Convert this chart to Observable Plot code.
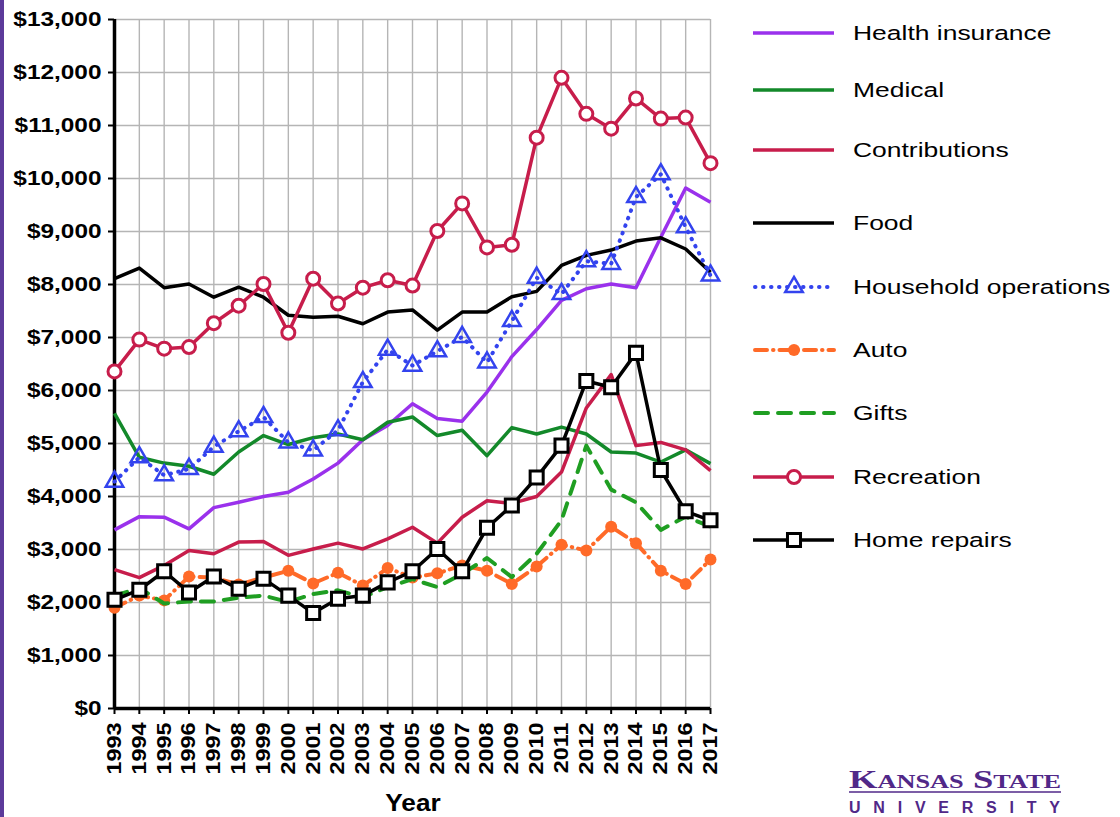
<!DOCTYPE html>
<html><head><meta charset="utf-8">
<script src="https://cdn.jsdelivr.net/npm/d3@7"></script>
<script src="https://cdn.jsdelivr.net/npm/@observablehq/plot@0.6"></script>
<style>
html,body{margin:0;padding:0;background:#fff;}
#wrap{position:relative;width:1120px;height:817px;overflow:hidden;background:#fff;font-family:"Liberation Sans",Arial,sans-serif;}
#chart{position:absolute;left:0;top:0;}
#overlay{position:absolute;left:0;top:0;}
#stripe{position:absolute;left:0;top:0;width:4px;height:817px;background:#5c3a9a;}
</style></head>
<body>
<div id="wrap"><div id="chart"></div><svg id="overlay" width="1120" height="817"></svg><div id="stripe"></div></div>
<script>
// ---- data ----
const years = [1993,1994,1995,1996,1997,1998,1999,2000,2001,2002,2003,2004,2005,2006,2007,2008,2009,2010,2011,2012,2013,2014,2015,2016,2017];
const yTicks = [0,1000,2000,3000,4000,5000,6000,7000,8000,9000,10000,11000,12000,13000];
const seriesNames = ["Health insurance","Medical","Contributions","Food","Household operations","Auto","Gifts","Recreation","Home repairs"];
const healthInsurance = [3370,3620,3610,3390,3790,3890,4000,4080,4330,4630,5070,5340,5750,5470,5420,5970,6640,7150,7700,7920,8010,7940,8890,9820,9550];
const medical = [5570,4740,4630,4570,4420,4840,5150,4980,5110,5180,5070,5400,5500,5150,5250,4770,5300,5180,5310,5180,4840,4820,4650,4880,4620];
const contributions = [2620,2470,2700,2980,2920,3140,3150,2890,3010,3120,3010,3200,3420,3120,3610,3920,3870,4000,4460,5670,6300,4960,5020,4880,4490];
const food = [8110,8310,7940,8010,7760,7950,7760,7420,7380,7400,7260,7480,7520,7140,7480,7480,7770,7870,8360,8550,8650,8820,8880,8670,8230];
const householdOperations = [4280,4740,4400,4520,4940,5230,5500,5020,4870,5250,6160,6770,6470,6740,7010,6530,7310,8130,7820,8440,8390,9650,10080,9080,8170];
const auto = [1900,2130,2040,2490,2470,2340,2470,2600,2360,2560,2320,2650,2470,2550,2700,2600,2350,2680,3090,2980,3430,3120,2600,2350,2810];
const gifts = [2130,2270,1980,2020,2020,2090,2130,2010,2160,2230,2100,2290,2440,2290,2540,2840,2480,2920,3550,4960,4130,3890,3370,3620,3430];
const recreation = [6360,6960,6790,6820,7270,7600,8010,7090,8110,7640,7940,8080,7980,9010,9530,8700,8750,10770,11900,11220,10940,11510,11130,11150,10290];
const homeRepairs = [2050,2240,2590,2190,2490,2260,2450,2130,1800,2070,2130,2380,2590,3010,2590,3410,3830,4360,4960,6180,6060,6710,4500,3720,3550];

// ---- styles ----
const CRIMSON = "#c71d4b";
const styles = {
  "Health insurance":     {values: healthInsurance, stroke:"#9a31ec", width:3.5},
  "Medical":              {values: medical, stroke:"#13892a", width:3.5},
  "Contributions":        {values: contributions, stroke:CRIMSON, width:3.5},
  "Food":                 {values: food, stroke:"#000", width:3.5},
  "Household operations": {values: householdOperations, stroke:"#3343ee", width:4, dash:"0.5 7.5", cap:"round", symbol:"triangle", r:5.2, fill:"none", mstroke:2.5},
  "Auto":                 {values: auto, stroke:"#ff6a28", width:4, dash:"12 6 0.5 6", cap:"round", symbol:"circle", r:6, fill:"#ff6a28", mstroke:0},
  "Gifts":                {values: gifts, stroke:"#1f9e22", width:4, dash:"13 10", cap:"round"},
  "Recreation":           {values: recreation, stroke:CRIMSON, width:3.5, symbol:"circle", r:6.5, fill:"#fff", mstroke:3},
  "Home repairs":         {values: homeRepairs, stroke:"#000", width:3.5, symbol:"square", r:4.6, fill:"#fff", mstroke:3}
};

const rows = seriesNames.flatMap(name => styles[name].values.map((v, i) => ({series: name, year: years[i], value: v})));

const drawOrder = ["Health insurance","Medical","Food","Household operations","Auto","Gifts","Contributions","Recreation","Home repairs"];
const seriesMarks = drawOrder.flatMap(name => {
  const s = styles[name];
  const d = rows.filter(r => r.series === name);
  const ms = [Plot.line(d, {x:"year", y:"value", stroke:s.stroke, strokeWidth:s.width, strokeDasharray:s.dash, strokeLinecap:s.cap || "butt", strokeLinejoin:"round"})];
  if (s.symbol) {
    if (s.symbol === "square") {
      ms.push(Plot.dot(d, {x:"year", y:"value", symbol:"square", r:s.r*1.6, fill:s.fill, stroke:s.stroke, strokeWidth:s.mstroke}));
    } else if (s.symbol === "triangle") {
      ms.push(Plot.dot(d, {x:"year", y:"value", symbol:"triangle", r:s.r*1.25, fill:s.fill, stroke:s.stroke, strokeWidth:s.mstroke}));
    } else {
      ms.push(Plot.dot(d, {x:"year", y:"value", r:s.r, fill:s.fill, stroke:s.mstroke ? s.stroke : "none", strokeWidth:s.mstroke}));
    }
  }
  return ms;
});

const chart = Plot.plot({
  width: 740, height: 817,
  marginLeft: 114, marginRight: 30, marginTop: 19, marginBottom: 109,
  style: {fontFamily:'"Liberation Sans", Arial, sans-serif', background:"transparent", color:"#000", overflow:"visible"},
  x: {domain:[1993, 2017]},
  y: {domain:[0, 13000]},
  marks: [
    Plot.gridX({ticks: years, stroke:"#b5b5b5", strokeOpacity:1, strokeWidth:1.4}),
    Plot.gridY({ticks: yTicks, stroke:"#b5b5b5", strokeOpacity:1, strokeWidth:1.4}),
    Plot.axisY({ticks: yTicks, tickFormat: d => "$" + d3.format(",")(d), tickSize:6, tickPadding:7, fontSize:20, fontWeight:"bold", strokeWidth:2, label:null}),
    Plot.axisX({ticks: years, tickFormat: d => String(d), tickRotate:-90, tickSize:6, tickPadding:8, fontSize:20, fontWeight:"bold", strokeWidth:2, label:null}),
    Plot.ruleX([1993], {stroke:"#000", strokeWidth:3.5}),
    Plot.ruleY([0], {stroke:"#000", strokeWidth:3.5}),
    ...seriesMarks
  ]
});
document.getElementById("chart").appendChild(chart);

function stretch(nodes, f) {
  nodes.forEach(t => {
    const w = t.getComputedTextLength();
    if (w > 0) { t.setAttribute("textLength", (w * f).toFixed(1)); t.setAttribute("lengthAdjust", "spacingAndGlyphs"); }
  });
}
stretch(chart.querySelectorAll('g[aria-label="y-axis tick label"] text'), 1.22);
stretch(chart.querySelectorAll('g[aria-label="x-axis tick label"] text'), 1.17);

// ---- overlay: legend, axis title, logo ----
const ov = d3.select("#overlay");
const legendRowY = [33, 90, 150, 223, 287, 350, 413, 477, 540];
const lx0 = 753, lx1 = 834, lxm = 794, ltx = 853;
seriesNames.forEach((name, i) => {
  const s = styles[name];
  const y = legendRowY[i];
  ov.append("line").attr("x1", lx0 + (s.cap ? 2 : 0)).attr("x2", lx1).attr("y1", y).attr("y2", y)
    .attr("stroke", s.stroke).attr("stroke-width", s.width)
    .attr("stroke-dasharray", s.dash || null).attr("stroke-linecap", s.cap || "butt");
  if (s.symbol) {
    const sym = s.symbol === "square" ? d3.symbolSquare : s.symbol === "triangle" ? d3.symbolTriangle : d3.symbolCircle;
    const rr = s.symbol === "square" ? s.r*1.6 : s.symbol === "triangle" ? s.r*1.25 : s.r;
    ov.append("path").attr("transform", `translate(${lxm},${y})`)
      .attr("d", d3.symbol(sym, Math.PI * rr * rr)())
      .attr("fill", s.fill).attr("stroke", s.mstroke ? s.stroke : "none").attr("stroke-width", s.mstroke);
  }
  ov.append("text").attr("x", ltx).attr("y", y).attr("dy", "0.36em")
    .attr("font-family", '"Liberation Sans", Arial, sans-serif').attr("font-size", 20.5).attr("fill", "#000")
    .attr("class", "lg").text(name);
});
stretch(document.querySelectorAll("#overlay text.lg"), 1.29);

const yearT = ov.append("text").attr("x", 413).attr("y", 811).attr("text-anchor", "middle")
  .attr("font-family", '"Liberation Sans", Arial, sans-serif').attr("font-weight", "bold").attr("font-size", 23)
  .attr("fill", "#000").text("Year");
stretch([yearT.node()], 1.14);

// logo
const KS = "#512888";
ov.append("text").attr("x", 849).attr("y", 788).attr("font-family", '"Liberation Serif", "DejaVu Serif", serif')
  .attr("font-weight", "bold").attr("font-size", 25).attr("font-variant", "small-caps").attr("fill", KS)
  .attr("textLength", 212).attr("lengthAdjust", "spacingAndGlyphs").text("Kansas State");
ov.append("line").attr("x1", 849).attr("x2", 1061).attr("y1", 792).attr("y2", 792).attr("stroke", KS).attr("stroke-width", 1.5);
ov.append("text").attr("x", 849).attr("y", 813).attr("font-family", '"Liberation Sans", Arial, sans-serif')
  .attr("font-weight", "bold").attr("font-size", 16).attr("fill", KS)
  .attr("textLength", 211).attr("lengthAdjust", "spacing").text("UNIVERSITY");
</script>
</body></html>
